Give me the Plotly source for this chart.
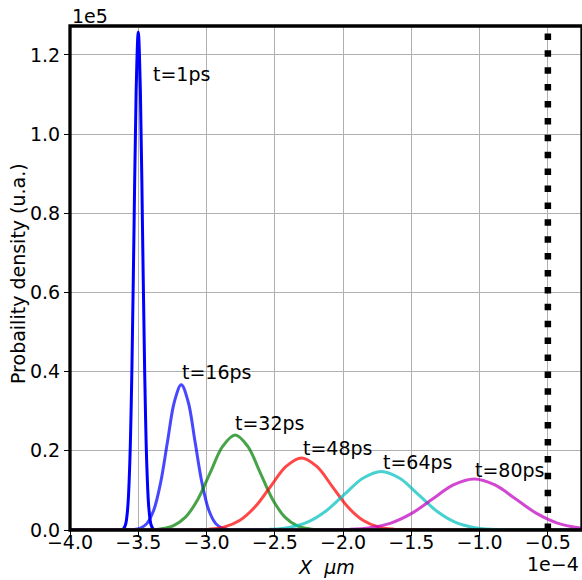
import plotly.graph_objects as go

# ---- data (x in units of 1e-4, y in units of 1e5) ----
labels = ["t=1ps", "t=16ps", "t=32ps", "t=48ps", "t=64ps", "t=80ps"]

x_t1 = [-4.0, -3.624, -3.6085, -3.593, -3.5775, -3.562, -3.5465, -3.531, -3.5155, -3.50,
        -3.4845, -3.469, -3.4535, -3.438, -3.4225, -3.407, -3.3915, -3.376, -0.2]
y_t1 = [0, 0, 0.003, 0.014, 0.055, 0.170, 0.408, 0.763, 1.110, 1.258,
        1.110, 0.763, 0.408, 0.170, 0.055, 0.014, 0.003, 0, 0]

x_t16 = [-4.0, -3.589, -3.5385, -3.488, -3.4375, -3.387, -3.3365, -3.286, -3.2355, -3.185,
         -3.1345, -3.084, -3.0335, -2.983, -2.9325, -2.882, -2.8315, -2.781, -0.2]
y_t16 = [0, 0, 0.0008, 0.0041, 0.0161, 0.0497, 0.1192, 0.2226, 0.3239, 0.367,
         0.3239, 0.2226, 0.1192, 0.0497, 0.0161, 0.0041, 0.0008, 0, 0]

x_t32 = [-4.0, -3.518, -3.427, -3.336, -3.245, -3.154, -3.063, -2.972, -2.881, -2.79,
         -2.699, -2.608, -2.517, -2.426, -2.335, -2.244, -2.153, -2.062, -0.2]
y_t32 = [0, 0, 0.0005, 0.0027, 0.0105, 0.0325, 0.0779, 0.1456, 0.2118, 0.240,
         0.2118, 0.1456, 0.0779, 0.0325, 0.0105, 0.0027, 0.0005, 0, 0]

x_t48 = [-4.0, -3.205, -3.0925, -2.98, -2.8675, -2.755, -2.6425, -2.53, -2.4175, -2.305,
         -2.1925, -2.08, -1.9675, -1.855, -1.7425, -1.63, -1.5175, -1.405, -0.2]
y_t48 = [0, 0, 0.0004, 0.0020, 0.0080, 0.0246, 0.0591, 0.1104, 0.1606, 0.182,
         0.1606, 0.1104, 0.0591, 0.0246, 0.0080, 0.0020, 0.0004, 0, 0]

x_t64 = [-4.0, -2.80, -2.665, -2.53, -2.395, -2.26, -2.125, -1.99, -1.855, -1.72,
         -1.585, -1.45, -1.315, -1.18, -1.045, -0.91, -0.775, -0.64, -0.2]
y_t64 = [0, 0, 0.0003, 0.0016, 0.0065, 0.0200, 0.0481, 0.0898, 0.1306, 0.148,
         0.1306, 0.0898, 0.0481, 0.0200, 0.0065, 0.0016, 0.0003, 0, 0]

x_t80 = [-4.0, -2.26, -2.1075, -1.955, -1.8025, -1.65, -1.4975, -1.345, -1.1925, -1.04,
         -0.8875, -0.735, -0.5825, -0.43, -0.2775, -0.125, 0.0275, 0.18]
y_t80 = [0, 0, 0.0003, 0.0014, 0.0057, 0.0175, 0.0419, 0.0782, 0.1138, 0.129,
         0.1138, 0.0782, 0.0419, 0.0175, 0.0057, 0.0014, 0.0003, 0]

label_x = [-3.389, -3.18, -2.79, -2.296, -1.710, -1.031]
label_y = [1.152, 0.400, 0.270, 0.206, 0.171, 0.152]

barrier_x = -0.5

x_ticks = [-4.0, -3.5, -3.0, -2.5, -2.0, -1.5, -1.0, -0.5]
x_tick_text = ["\u22124.0", "\u22123.5", "\u22123.0", "\u22122.5", "\u22122.0",
               "\u22121.5", "\u22121.0", "\u22120.5"]
y_ticks = [0.0, 0.2, 0.4, 0.6, 0.8, 1.0, 1.2]
y_tick_text = ["0.0", "0.2", "0.4", "0.6", "0.8", "1.0", "1.2"]

x_range = [-4.0, -0.25]
y_range = [0.0, 1.273]

# ---- styling ----
FONT = "DejaVu Sans"
FS = 19
colors = ["rgb(0,0,255)", "rgba(0,0,255,0.72)", "rgba(0,128,0,0.72)",
          "rgba(255,0,0,0.72)", "rgba(0,191,191,0.72)", "rgba(191,0,191,0.72)"]

xs = [x_t1, x_t16, x_t32, x_t48, x_t64, x_t80]
ys = [y_t1, y_t16, y_t32, y_t48, y_t64, y_t80]

fig = go.Figure()
for xv, yv, c, name in zip(xs, ys, colors, labels):
    fig.add_trace(go.Scatter(x=xv, y=yv, mode="lines", name=name,
                             line=dict(color=c, width=3, shape="spline", smoothing=1.0),
                             hoverinfo="skip"))

fig.add_trace(go.Scatter(x=[barrier_x, barrier_x], y=[y_range[0], y_range[1]],
                         mode="lines", line=dict(color="black", width=6.5, dash="6.5px,10.4px"),
                         hoverinfo="skip"))

annotations = []
for lx, ly, t in zip(label_x, label_y, labels):
    annotations.append(dict(x=lx, y=ly, xref="x", yref="y", text=t, showarrow=False,
                            xanchor="left", yanchor="middle", xshift=-2,
                            font=dict(family=FONT, size=FS, color="black")))

annotations += [
    dict(x=0, y=1, xref="paper", yref="paper", text="1e5", showarrow=False,
         xanchor="left", yanchor="bottom", xshift=0, yshift=-3,
         font=dict(family=FONT, size=FS, color="black")),
    dict(x=1, y=0, xref="paper", yref="paper", text="1e\u22124", showarrow=False,
         xanchor="right", yanchor="middle", xshift=-1, yshift=-34,
         font=dict(family=FONT, size=FS, color="black")),
    dict(x=0.5, y=0, xref="paper", yref="paper", text="<i>X</i>  <i>\u03bcm</i>",
         showarrow=False, xanchor="center", yanchor="middle", yshift=-37,
         font=dict(family=FONT, size=FS, color="black")),
    dict(x=0, y=0.5, xref="paper", yref="paper", text="Probaility density (u.a.)",
         showarrow=False, xanchor="center", yanchor="middle", textangle=-90,
         xshift=-52, yshift=4, font=dict(family=FONT, size=FS, color="black")),
]

fig.update_layout(
    width=582, height=580, autosize=False,
    margin=dict(l=70, r=0, t=26, b=50, pad=0),
    paper_bgcolor="white", plot_bgcolor="white",
    showlegend=False,
    font=dict(family=FONT, size=FS, color="black"),
    annotations=annotations,
    shapes=[dict(type="rect", xref="paper", yref="paper", x0=0, y0=0, x1=1, y1=1,
                 line=dict(color="black", width=3.3), layer="above")],
)
fig.update_xaxes(range=x_range, tickmode="array", tickvals=x_ticks, ticktext=x_tick_text,
                 showgrid=True, gridcolor="#b0b0b0", gridwidth=1, zeroline=False,
                 showline=False, ticks="outside", ticklen=5, tickwidth=1.3, tickcolor="black",
                 ticklabelstandoff=-10,
                 tickfont=dict(family=FONT, size=FS, color="black"), automargin=False)
fig.update_yaxes(range=y_range, tickmode="array", tickvals=y_ticks, ticktext=y_tick_text,
                 showgrid=True, gridcolor="#b0b0b0", gridwidth=1, zeroline=False,
                 showline=False, ticks="outside", ticklen=5, tickwidth=1.3, tickcolor="black",
                 tickfont=dict(family=FONT, size=FS, color="black"), automargin=False)

fig.write_html("out.html", config={"displayModeBar": False},
               post_script="document.body.style.margin='0';document.body.style.overflow='hidden';")
